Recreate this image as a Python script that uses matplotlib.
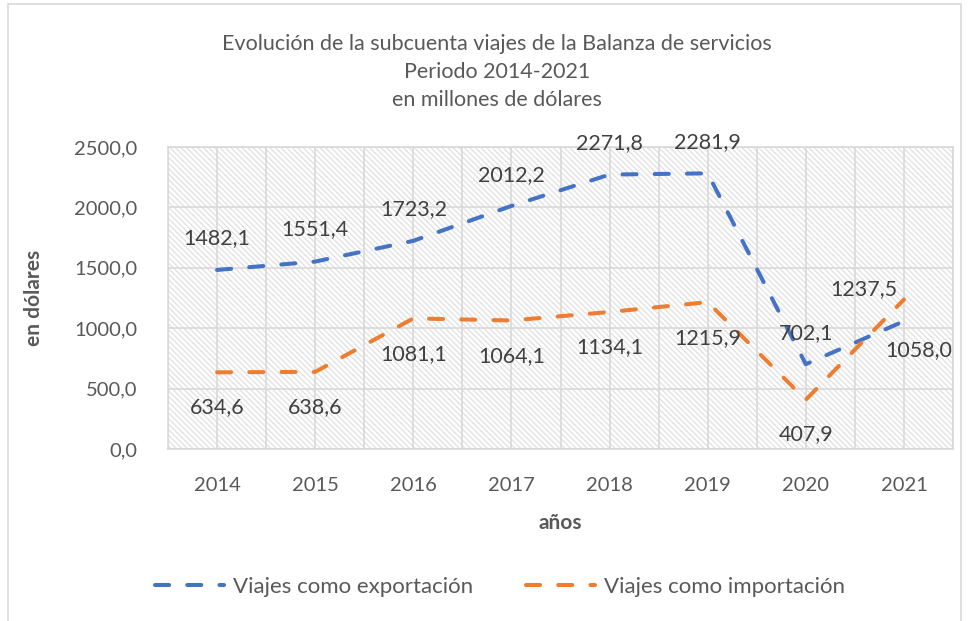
import matplotlib
matplotlib.use("Agg")
import matplotlib.pyplot as plt
from matplotlib.patches import Rectangle
from matplotlib.lines import Line2D
from matplotlib.ticker import FuncFormatter

plt.rcParams['font.family'] = ['Lato', 'DejaVu Sans']
plt.rcParams['hatch.linewidth'] = 0.9

years = ['2014', '2015', '2016', '2017', '2018', '2019', '2020', '2021']
exportacion = [1482.1, 1551.4, 1723.2, 2012.2, 2271.8, 2281.9, 702.1, 1058.0]
importacion = [634.6, 638.6, 1081.1, 1064.1, 1134.1, 1215.9, 407.9, 1237.5]
series_names = ['Viajes como exportación', 'Viajes como importación']
title_text = ('Evolución de la subcuenta viajes de la Balanza de servicios\n'
              'Periodo 2014-2021\nen millones de dólares')
y_ticks = [0, 500, 1000, 1500, 2000, 2500]

# label offsets in pixels (dx, dy)
exp_offsets = [(0, 32), (0, 32), (0, 32), (0, 31), (0, 31), (0, 31), (0, 31), (15, -29)]
imp_offsets = [(0, -35), (0, -35), (0, -36), (0, -36), (0, -35), (0, -36), (0, -34), (-40, 10)]

BLUE = '#4472C4'
ORANGE = '#ED7D31'
GRID = '#d9d9d9'
TXT = '#595959'
LBL = '#404040'

fig = plt.figure(figsize=(9.71, 6.21), dpi=100)
fig.patch.set_facecolor('white')
# outer chart border
fig.patches.append(Rectangle((8 / 971, -0.05), (961 - 8) / 971, 1.05 - 4 / 621,
                             transform=fig.transFigure, fill=False,
                             edgecolor=GRID, linewidth=1.2))

ax = fig.add_axes([168 / 971, 1 - 449 / 621, (953 - 168) / 971, (449 - 147) / 621])
x = list(range(len(years)))

ax.add_patch(Rectangle((0, 0), 1, 1, transform=ax.transAxes, facecolor='white',
                       edgecolor='#e0e0e0', hatch='\\' * 6, linewidth=0, zorder=0))
ax.set_axisbelow(True)

ax.plot(x, exportacion, color=BLUE, lw=2.9, dashes=(3.5, 4.5),
        dash_capstyle='round', zorder=3)
ax.plot(x, importacion, color=ORANGE, lw=2.9, dashes=(3.5, 4.5),
        dash_capstyle='round', zorder=3)

fmt = lambda v: f'{v:.1f}'.replace('.', ',')
for xi, v, (dx, dy) in zip(x, exportacion, exp_offsets):
    ax.annotate(fmt(v), (xi, v), xytext=(dx, dy), textcoords='offset pixels',
                ha='center', va='center', fontsize=15.5, color=LBL, zorder=4)
for xi, v, (dx, dy) in zip(x, importacion, imp_offsets):
    ax.annotate(fmt(v), (xi, v), xytext=(dx, dy), textcoords='offset pixels',
                ha='center', va='center', fontsize=15.5, color=LBL, zorder=4)

ax.set_xlim(-0.5, len(years) - 0.5)
ax.set_ylim(0, 2500)
ax.set_yticks(y_ticks)
ax.yaxis.set_major_formatter(FuncFormatter(lambda v, p: fmt(v)))
ax.set_xticks(x)
ax.set_xticklabels(years)
ax.set_xticks([i - 0.5 for i in range(len(years) + 1)], minor=True)
ax.grid(True, which='both', axis='x', color=GRID, lw=1.2)
ax.grid(True, which='major', axis='y', color=GRID, lw=1.2)
ax.tick_params(axis='both', which='both', length=0, labelsize=14.5, labelcolor=TXT)
ax.tick_params(axis='y', pad=22)
ax.tick_params(axis='x', pad=20)
for s in ax.spines.values():
    s.set_color(GRID)
    s.set_linewidth(1.2)

ax.set_xlabel('años', fontsize=15, fontweight='bold', color=TXT, labelpad=14)
ax.set_ylabel('en dólares', fontsize=15, fontweight='bold', color=TXT, labelpad=22)

fig.text(497 / 971, 1 - 72 / 621, title_text, ha='center', va='center',
         fontsize=15.5, color=TXT, linespacing=1.47)

handles = [Line2D([], [], color=BLUE, lw=2.9, dashes=(3.5, 4.5), dash_capstyle='round'),
           Line2D([], [], color=ORANGE, lw=2.9, dashes=(3.5, 4.5), dash_capstyle='round')]
fig.legend(handles, series_names, loc='center', bbox_to_anchor=(500 / 971, 1 - 587 / 621),
           ncol=2, frameon=False, fontsize=16, labelcolor=TXT,
           handlelength=3.1, handletextpad=0.4, columnspacing=2.4)

fig.savefig('out.png', dpi=100)
